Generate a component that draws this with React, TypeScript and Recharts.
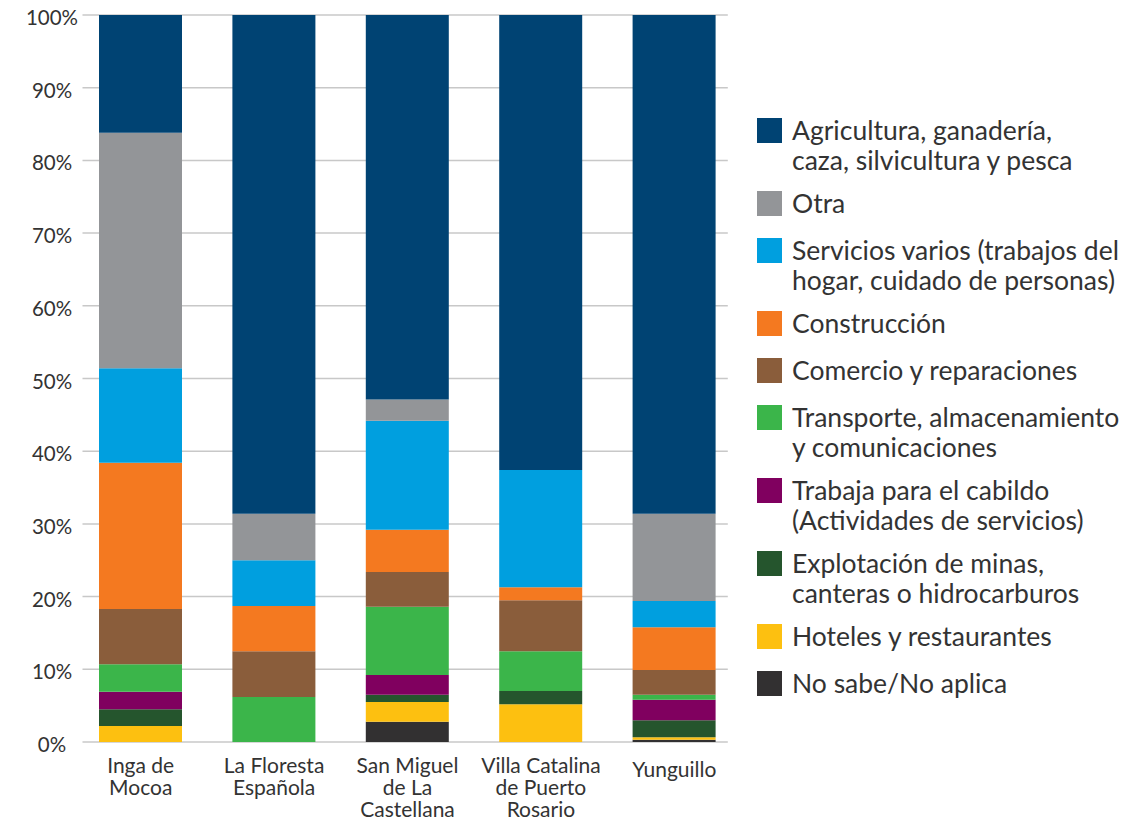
import React from 'react';
import { BarChart, Bar, XAxis, YAxis, CartesianGrid, Legend } from 'recharts';

const categories = [
  'Inga de\nMocoa',
  'La Floresta\nEspañola',
  'San Miguel\nde La\nCastellana',
  'Villa Catalina\nde Puerto\nRosario',
  'Yunguillo',
];

// series values, one per category (percent)
const noSabe = [0, 0, 2.8, 0, 0.3];
const hoteles = [2.2, 0, 2.7, 5.2, 0.35];
const minas = [2.3, 0, 1.0, 1.8, 2.35];
const cabildo = [2.4, 0, 2.7, 0, 2.8];
const transporte = [3.8, 6.2, 9.4, 5.5, 0.7];
const comercio = [7.6, 6.3, 4.8, 7.0, 3.4];
const construccion = [20.1, 6.2, 5.8, 1.8, 5.9];
const servicios = [13.0, 6.3, 15.0, 16.1, 3.6];
const otra = [32.4, 6.4, 2.9, 0, 12.0];
const agricultura = [16.2, 68.6, 52.9, 62.6, 68.6];

const yTicks = [0, 10, 20, 30, 40, 50, 60, 70, 80, 90, 100];

// stacked bottom to top
const series = [
  { key: 'noSabe', label: 'No sabe/No aplica', values: noSabe, color: '#323031' },
  { key: 'hoteles', label: 'Hoteles y restaurantes', values: hoteles, color: '#FDC010' },
  { key: 'minas', label: 'Explotación de minas,\ncanteras o hidrocarburos', values: minas, color: '#25552D' },
  { key: 'cabildo', label: 'Trabaja para el cabildo\n(Actividades de servicios)', values: cabildo, color: '#80005F' },
  { key: 'transporte', label: 'Transporte, almacenamiento\ny comunicaciones', values: transporte, color: '#3BB54A' },
  { key: 'comercio', label: 'Comercio y reparaciones', values: comercio, color: '#8A5D3B' },
  { key: 'construccion', label: 'Construcción', values: construccion, color: '#F47920' },
  { key: 'servicios', label: 'Servicios varios (trabajos del\nhogar, cuidado de personas)', values: servicios, color: '#009FDF' },
  { key: 'otra', label: 'Otra', values: otra, color: '#939598' },
  { key: 'agricultura', label: 'Agricultura, ganadería,\ncaza, silvicultura y pesca', values: agricultura, color: '#004373' },
];

const data = categories.map((name, i) => {
  const row: Record<string, string | number> = { name };
  series.forEach((s) => {
    row[s.key] = s.values[i];
  });
  return row;
});

const FONT = 'Lato, "Noto Sans", sans-serif';
const TEXT = '#333333';

const XTick = (props: any) => {
  const { x, y, payload } = props;
  const lines = String(payload.value).split('\n');
  const top = lines.length === 1 ? 35 : 31;
  return (
    <text x={x} y={y + top} textAnchor="middle" fill={TEXT} fontSize={21} fontFamily={FONT}>
      {lines.map((l, i) => (
        <tspan key={i} x={x} dy={i === 0 ? 0 : 22}>
          {l}
        </tspan>
      ))}
    </text>
  );
};

const YTick = (props: any) => {
  const { x, y, payload } = props;
  return (
    <text x={x - 22} y={y + 2} textAnchor="middle" dominantBaseline="central" fill={TEXT} fontSize={20.5} fontFamily={FONT}>
      {`${payload.value}%`}
    </text>
  );
};

const GridLine = (props: any) => {
  const { x1, x2, y1, y2 } = props;
  return <line x1={x1 + 8.5} x2={x2 - 13.2} y1={y1} y2={y2} stroke="#c8c8c8" strokeWidth={1.5} />;
};

const LegendContent = () => {
  const items = [...series].reverse();
  return (
    <div style={{ fontFamily: FONT, color: TEXT, fontSize: 26.5, lineHeight: '30px' }}>
      {items.map((s) => {
        const lines = s.label.split('\n');
        return (
          <div key={s.key} style={{ display: 'flex', alignItems: 'flex-start', marginBottom: lines.length === 1 ? 17 : 13 }}>
            <div style={{ width: 25, height: 25, background: s.color, marginTop: 3, marginRight: 10, flexShrink: 0 }} />
            <div style={{ whiteSpace: 'pre' }}>{s.label}</div>
          </div>
        );
      })}
    </div>
  );
};

export default function App() {
  return (
    <div style={{ position: 'absolute', left: 0, top: 0, width: 1145, height: 827, background: '#fff' }}>
      <BarChart
        width={1145}
        height={827}
        data={data}
        margin={{ top: 15, right: 404, bottom: 0, left: 0 }}
        barSize={83}
      >
        <CartesianGrid vertical={false} horizontal={GridLine as any} />
        <XAxis
          dataKey="name"
          axisLine={false}
          tickLine={false}
          tickSize={0}
          tickMargin={0}
          height={85}
          interval={0}
          tick={<XTick />}
        />
        <YAxis
          type="number"
          domain={[0, 100]}
          ticks={yTicks}
          axisLine={false}
          tickLine={false}
          tickSize={0}
          tickMargin={0}
          width={74}
          tick={<YTick />}
        />
        <Legend
          layout="horizontal"
          verticalAlign="middle"
          align="center"
          content={<LegendContent />}
          wrapperStyle={{ position: 'absolute', left: 757, top: 115, width: 385, height: 'auto' }}
        />
        {series.map((s) => (
          <Bar
            key={s.key}
            dataKey={s.key}
            name={s.label.replace('\n', ' ')}
            stackId="a"
            fill={s.color}
            isAnimationActive={false}
          />
        ))}
      </BarChart>
    </div>
  );
}
